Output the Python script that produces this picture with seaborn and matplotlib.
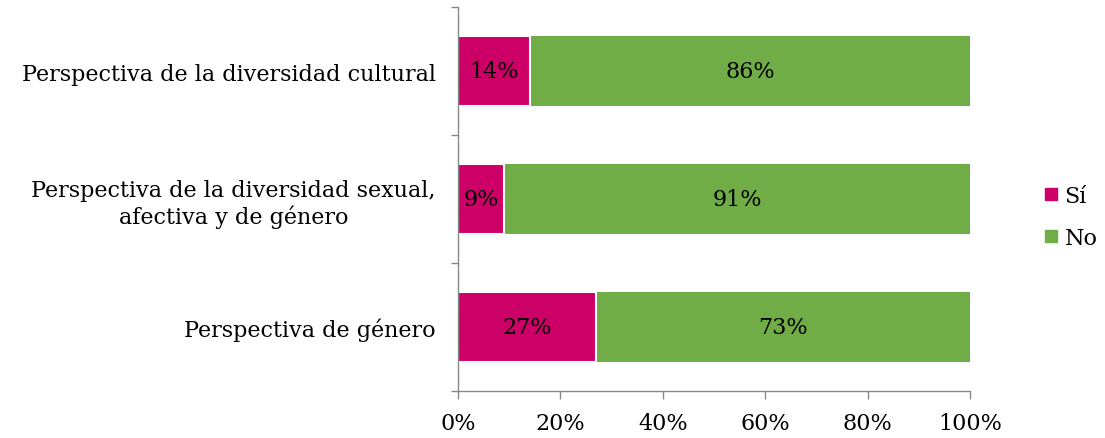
import matplotlib
matplotlib.use("Agg")
import matplotlib.pyplot as plt
from matplotlib.lines import Line2D
import seaborn as sns
import pandas as pd

categories = ["Perspectiva de la diversidad cultural",
              "Perspectiva de la diversidad sexual,\nafectiva y de género",
              "Perspectiva de género"]
si_values = [14, 9, 27]
no_values = [86, 91, 73]
series_names = ["Sí", "No"]
tick_labels = ["0%", "20%", "40%", "60%", "80%", "100%"]

sns.set_theme(style="white")
plt.rcParams['font.family'] = ['DejaVu Serif']
plt.rcParams['text.color'] = 'black'
plt.rcParams['xtick.labelcolor'] = 'black'
plt.rcParams['ytick.labelcolor'] = 'black'

SI_COLOR = "#CC0066"
NO_COLOR = "#70AD47"

df = pd.DataFrame({"cat": categories, "si": si_values, "no": no_values})
df["total"] = df["si"] + df["no"]

fig = plt.figure(figsize=(11.05, 4.39), dpi=100)
ax = fig.add_axes([458/1105, 1-392/439, (970-458)/1105, (392-8)/439])

sns.barplot(data=df, y="cat", x="total", orient="h", color=NO_COLOR,
            width=0.547, saturation=1, ax=ax, edgecolor="white", linewidth=0)
sns.barplot(data=df, y="cat", x="si", orient="h", color=SI_COLOR,
            width=0.547, saturation=1, ax=ax, edgecolor="white", linewidth=1.5)

fs = 16
for i, (s, n) in enumerate(zip(si_values, no_values)):
    ax.text(s / 2, i, f"{s}%", ha="center", va="center", fontsize=fs, color="black")
    ax.text(s + n / 2, i, f"{n}%", ha="center", va="center", fontsize=fs, color="black")

ax.set_xlim(0, 100)
ax.set_ylim(2.5, -0.5)
ax.set_xticks([0, 20, 40, 60, 80, 100])
ax.set_xticklabels(tick_labels, fontsize=fs)
ax.set_yticks(range(len(categories)))
ax.set_yticklabels(categories, fontsize=fs, multialignment="center")
ax.set_yticks([-0.5, 0.5, 1.5, 2.5], minor=True)
ax.tick_params(axis="y", which="major", length=0, pad=16)
ax.tick_params(axis="y", which="minor", length=5, width=1, color="#888888", left=True)
ax.tick_params(axis="x", which="major", length=6, width=1, color="#888888", bottom=True, pad=9)
ax.set_xlabel("")
ax.set_ylabel("")
for sp in ["top", "right"]:
    ax.spines[sp].set_visible(False)
for sp in ["left", "bottom"]:
    ax.spines[sp].set_color("#888888")
    ax.spines[sp].set_linewidth(1)

handles = [Line2D([], [], marker="s", linestyle="", markersize=8, color=c)
           for c in [SI_COLOR, NO_COLOR]]
fig.legend(handles, series_names, loc="center left",
           bbox_to_anchor=(1040/1105, 1-218/439), frameon=False,
           borderpad=0, borderaxespad=0,
           fontsize=fs, handletextpad=0.1, labelspacing=0.9, handlelength=1,
           labelcolor="black")

fig.savefig("out.png", dpi=100)
